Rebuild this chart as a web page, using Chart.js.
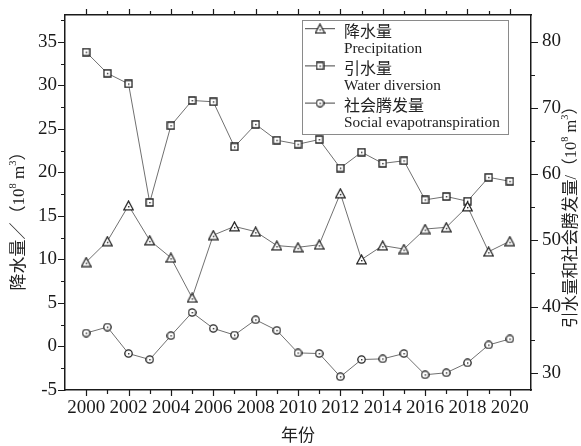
<!DOCTYPE html>
<html><head><meta charset="utf-8">
<script src="https://cdn.jsdelivr.net/npm/chart.js@4/dist/chart.umd.min.js"></script>
<style>html,body{margin:0;padding:0;background:#fff;}</style>
</head><body>
<canvas id="c" width="581" height="446"></canvas>
<script>
// ---- data ----
const years = [2000,2001,2002,2003,2004,2005,2006,2007,2008,2009,2010,2011,2012,2013,2014,2015,2016,2017,2018,2019,2020];
const precipitation = [9.7,12.1,16.2,12.2,10.2,5.6,12.8,13.8,13.2,11.6,11.4,11.7,17.6,10.0,11.6,11.2,13.5,13.7,16.1,10.9,12.1];
const waterDiversion = [78.4,75.2,73.6,55.7,67.3,71.1,70.9,64.1,67.5,65.1,64.5,65.2,60.9,63.3,61.6,62.0,56.1,56.6,55.9,59.5,58.9];
const socialET = [36.0,36.9,32.9,32.0,35.6,39.1,36.7,35.7,38.0,36.4,33.0,32.9,29.4,32.0,32.1,32.9,29.7,30.0,31.5,34.2,35.1];
const xTickLabels = ['2000','2002','2004','2006','2008','2010','2012','2014','2016','2018','2020'];
const leftTickLabels = ['-5','0','5','10','15','20','25','30','35'];
const rightTickLabels = ['30','40','50','60','70','80'];
const namesCN = ['降水量','引水量','社会腾发量'];
const namesEN = ['Precipitation','Water diversion','Social evapotranspiration'];

const SERIF = "'Liberation Serif','Times New Roman','Noto Sans CJK SC',serif";
const INK = '#1a1a1a';

function makeMarker(kind){
  const c = document.createElement('canvas');
  const s = kind === 'tri' ? 11 : 9;
  c.width = s; c.height = s;
  const g = c.getContext('2d');
  g.fillStyle = '#fff'; g.strokeStyle = '#222'; g.lineWidth = 1.3;
  g.beginPath();
  let cx = s/2, cy = s/2;
  if (kind === 'tri') { g.moveTo(5.5,1); g.lineTo(10.2,9.8); g.lineTo(0.8,9.8); g.closePath(); cy = 7; }
  else if (kind === 'sq') { g.rect(1,1,7,7); }
  else { g.arc(4.5,4.5,3.7,0,Math.PI*2); }
  g.fill(); g.stroke();
  g.fillStyle = '#222';
  g.fillRect(Math.round(cx)-1, Math.round(cy)-1, 1.4, 1.4);
  return c;
}
const mTri = makeMarker('tri'), mSq = makeMarker('sq'), mCi = makeMarker('ci');

function pts(arr){ return years.map((y,i)=>({x:y, y:arr[i]})); }

function drawRich(ctx, segs, size){
  let total = 0;
  const widths = segs.map(s => { ctx.font = (s.sup ? size*0.62 : size) + 'px ' + SERIF; const w = ctx.measureText(s.t).width; total += w; return w; });
  let x = -total/2;
  segs.forEach((s,i) => {
    ctx.font = (s.sup ? size*0.62 : size) + 'px ' + SERIF;
    ctx.textBaseline = 'middle'; ctx.textAlign = 'left';
    ctx.fillText(s.t, x, s.sup ? -size*0.38 : 0);
    x += widths[i];
  });
}

const decor = {
  id: 'decor',
  afterDraw(chart){
    const ctx = chart.ctx, xs = chart.scales.x, yl = chart.scales.y, yr = chart.scales.y2;
    const a = chart.chartArea;
    ctx.save();
    ctx.strokeStyle = INK; ctx.lineWidth = 1.2;
    ctx.beginPath();
    years.forEach(yv => {
      const px = Math.round(xs.getPixelForValue(yv)) + 0.5;
      const L = yv % 2 === 0 ? 6 : 4;
      ctx.moveTo(px, a.bottom); ctx.lineTo(px, a.bottom + L);
      ctx.moveTo(px, a.top); ctx.lineTo(px, a.top - L);
    });
    for (let v = -5; v <= 38; v += 2.5) {
      const py = Math.round(yl.getPixelForValue(v)) + 0.5;
      const L = v % 5 === 0 ? 7 : 4;
      ctx.moveTo(a.left, py); ctx.lineTo(a.left - L, py);
    }
    for (let v = 30; v <= 84; v += 5) {
      const py = Math.round(yr.getPixelForValue(v)) + 0.5;
      const L = v % 10 === 0 ? 7 : 4;
      ctx.moveTo(a.right, py); ctx.lineTo(a.right + L, py);
    }
    ctx.stroke();

    // legend
    ctx.strokeStyle = '#8a8a8a'; ctx.lineWidth = 1;
    ctx.strokeRect(302.5, 20.5, 206, 114);
    const marks = [mTri, mSq, mCi];
    ctx.fillStyle = INK;
    for (let i = 0; i < 3; i++) {
      const yc = 30.7 + i*37.2, ye = 49 + i*37.2;
      ctx.strokeStyle = '#444'; ctx.lineWidth = 1;
      ctx.beginPath(); ctx.moveTo(305, yc - 2); ctx.lineTo(335, yc - 2); ctx.stroke();
      const m = marks[i];
      ctx.drawImage(m, 320 - m.width/2, yc - 2 - m.height/2);
      ctx.textAlign = 'left'; ctx.textBaseline = 'middle';
      ctx.font = "16px 'Noto Sans CJK SC',sans-serif";
      ctx.fillStyle = '#222';
      ctx.fillText(namesCN[i], 344, yc);
      ctx.font = '15.3px ' + SERIF;
      ctx.fillText(namesEN[i], 344, ye);
    }

    // axis titles
    ctx.fillStyle = '#222';
    ctx.save(); ctx.translate(20, 217); ctx.rotate(-Math.PI/2);
    drawRich(ctx, [{t:'降水量／（10'},{t:'8',sup:true},{t:' m'},{t:'3',sup:true},{t:'）'}], 17);
    ctx.restore();
    ctx.save(); ctx.translate(572, 213); ctx.rotate(-Math.PI/2);
    drawRich(ctx, [{t:'引水量和社会腾发量/（10'},{t:'8',sup:true},{t:' m'},{t:'3',sup:true},{t:'）'}], 16.5);
    ctx.restore();
    ctx.textAlign = 'center'; ctx.textBaseline = 'middle';
    ctx.font = '17px ' + SERIF;
    ctx.fillText('年份', (a.left + a.right)/2, 437);
    ctx.restore();
  }
};

const lineStyle = { borderColor: '#707070', borderWidth: 1, pointRadius: 5, pointHoverRadius: 5, tension: 0, fill: false };
const noPad = s => { s.paddingTop = 0; s.paddingBottom = 0; s.paddingLeft = 0; s.paddingRight = 0; };

new Chart(document.getElementById('c'), {
  type: 'line',
  data: {
    datasets: [
      Object.assign({ label: namesCN[0] + ' ' + namesEN[0], data: pts(precipitation), yAxisID: 'y', pointStyle: mTri }, lineStyle),
      Object.assign({ label: namesCN[1] + ' ' + namesEN[1], data: pts(waterDiversion), yAxisID: 'y2', pointStyle: mSq }, lineStyle),
      Object.assign({ label: namesCN[2] + ' ' + namesEN[2], data: pts(socialET), yAxisID: 'y2', pointStyle: mCi }, lineStyle)
    ]
  },
  options: {
    responsive: false, animation: false,
    layout: { padding: 0 },
    plugins: { legend: { display: false }, tooltip: { enabled: false } },
    scales: {
      x: {
        type: 'linear', position: 'bottom', min: 1999, max: 2021,
        afterBuildTicks: s => { s.ticks = xTickLabels.map(t => ({ value: Number(t) })); },
        afterFit: s => { s.height = 56; noPad(s); },
        grid: { drawOnChartArea: false, drawTicks: false },
        border: { display: true, color: INK, width: 1.5 },
        ticks: { padding: 7, color: INK, font: { family: SERIF, size: 19 }, maxRotation: 0, autoSkip: false,
          callback: v => String(v) }
      },
      x2: {
        type: 'linear', position: 'top', min: 1999, max: 2021,
        afterFit: s => { s.height = 15; noPad(s); },
        grid: { drawOnChartArea: false, drawTicks: false },
        border: { display: true, color: INK, width: 1.5 },
        ticks: { display: false }
      },
      y: {
        type: 'linear', position: 'left', min: -5, max: 38.1,
        afterBuildTicks: s => { s.ticks = leftTickLabels.map(t => ({ value: Number(t) })); },
        afterFit: s => { s.width = 65; noPad(s); },
        grid: { drawOnChartArea: false, drawTicks: false },
        border: { display: true, color: INK, width: 1.5 },
        ticks: { padding: 8, color: INK, font: { family: SERIF, size: 19 }, callback: v => String(v) }
      },
      y2: {
        type: 'linear', position: 'right', min: 27.4, max: 84.0,
        afterBuildTicks: s => { s.ticks = rightTickLabels.map(t => ({ value: Number(t) })); },
        afterFit: s => { s.width = 50; noPad(s); },
        grid: { drawOnChartArea: false, drawTicks: false },
        border: { display: true, color: INK, width: 1.5 },
        ticks: { padding: 11, color: INK, font: { family: SERIF, size: 19 }, callback: v => String(v) }
      }
    }
  },
  plugins: [decor]
});
</script>
</body></html>
